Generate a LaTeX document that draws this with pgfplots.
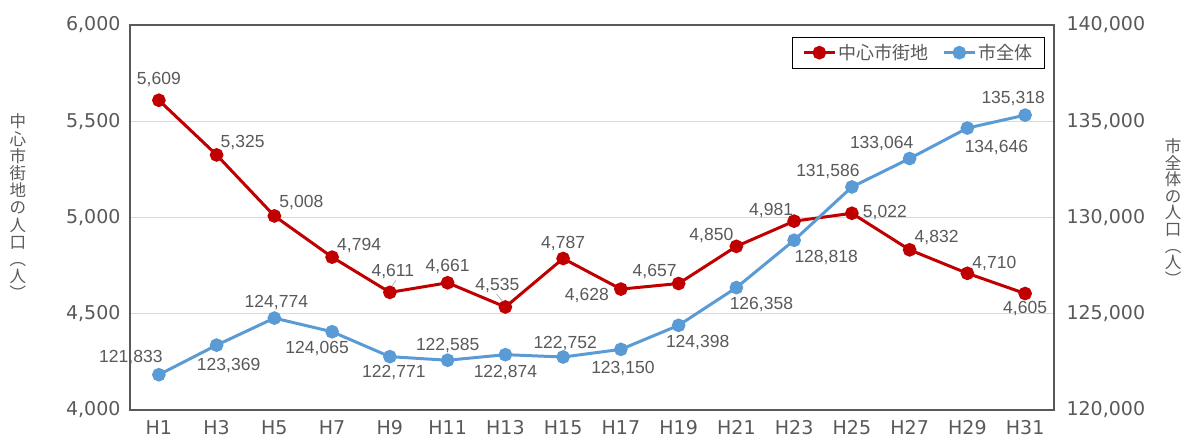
\documentclass[border=0pt]{standalone}
\usepackage{fontspec}
\setmainfont{Liberation Sans}
\newfontfamily\dejavu{DejaVu Sans}
\newfontfamily\jp{Noto Sans CJK JP}
\usepackage{pgfplots}
\pgfplotsset{compat=1.18}
\definecolor{cred}{HTML}{C00000}
\definecolor{cblue}{HTML}{5B9BD5}
\definecolor{ctext}{HTML}{595959}
\definecolor{cgrid}{HTML}{D9D9D9}
\definecolor{caxis}{HTML}{595959}
\pgfplotsset{
  base/.style={width=924pt,height=385pt,scale only axis,
    xmin=-0.5,xmax=15.5,at={(0,0)},anchor=south west,clip=false,
    /pgf/number format/fixed,
    /pgf/number format/assume math mode=true,
    /pgf/number format/1000 sep={,},
    scaled y ticks=false,
    tick style={draw=none},
    ticklabel style={font=\dejavu\fontsize{19}{21}\selectfont,text=ctext},
  },
}
\newcommand\lbl[5]{\node[font=\fontsize{17.5}{19}\selectfont,text=ctext,xshift=#3pt,yshift=#4pt] at (axis cs:#1,#2) {#5};}
\begin{document}
\begin{tikzpicture}
\begin{axis}[base,name=ax,
  ymin=4000,ymax=6000,ytick={4000,4500,5000,5500,6000},
  ytick pos=left,
  xtick={0,...,15},
  xticklabels={H1,H3,H5,H7,H9,H11,H13,H15,H17,H19,H21,H23,H25,H27,H29,H31},
  xticklabel style={yshift=-7pt},
  yticklabel style={xshift=-6pt},
  ymajorgrids, grid style={cgrid,line width=1pt},
  axis line style={caxis,line width=1.3pt},
]
\addplot[cred,line width=3pt,mark=*,mark size=5.3pt,mark options={solid}] coordinates {
(0,5609) (1,5325) (2,5008) (3,4794) (4,4611) (5,4661) (6,4535) (7,4787)
(8,4628) (9,4657) (10,4850) (11,4981) (12,5022) (13,4832) (14,4710) (15,4605)};
\lbl{0}{5609}{0}{21}{5,609}
\lbl{1}{5325}{26}{12}{5,325}
\lbl{2}{5008}{27}{13}{5,008}
\lbl{3}{4794}{27}{12}{4,794}
\lbl{4}{4611}{3}{21}{4,611}
\lbl{5}{4661}{0}{16}{4,661}
\lbl{6}{4535}{-8}{21}{4,535}
\lbl{7}{4787}{0}{15}{4,787}
\lbl{8}{4628}{-34}{-6}{4,628}
\lbl{9}{4657}{-24}{12}{4,657}
\lbl{10}{4850}{-25}{11}{4,850}
\lbl{11}{4981}{-23}{11}{4,981}
\lbl{12}{5022}{33}{1}{5,022}
\lbl{13}{4832}{27}{12}{4,832}
\lbl{14}{4710}{27}{10}{4,710}
\lbl{15}{4605}{0}{-15}{4,605}
\draw[gray!70,line width=0.6pt] ([xshift=2pt,yshift=6pt]axis cs:4,4611) -- ([xshift=6pt,yshift=12pt]axis cs:4,4611);
\draw[gray!70,line width=0.6pt] ([xshift=-3pt,yshift=6pt]axis cs:6,4535) -- ([xshift=-9pt,yshift=13pt]axis cs:6,4535);
\end{axis}
\begin{axis}[base,
  ymin=120000,ymax=140000,ytick={120000,125000,130000,135000,140000},
  axis y line*=right, axis x line=none,
  yticklabel style={xshift=9pt},
  axis line style={caxis,line width=1.3pt},
  legend columns=2,
  legend style={at={(0.990,0.969)},anchor=north east,draw=black,line width=0.8pt,
    font=\jp\fontsize{18}{20}\selectfont,text=ctext,
    inner xsep=10pt,inner ysep=5pt,
    /tikz/every even column/.append style={column sep=12pt}},
  legend image code/.code={\draw[mark repeat=2,mark phase=2,#1] plot coordinates {(0pt,0pt) (15.5pt,0pt) (31pt,0pt)};},
]
\addlegendimage{cred,line width=3pt,mark=*,mark size=5.3pt,mark options={solid}}
\addlegendentry{中心市街地}
\addplot[cblue,line width=3pt,mark=*,mark size=5.3pt,mark options={solid}] coordinates {
(0,121833) (1,123369) (2,124774) (3,124065) (4,122771) (5,122585) (6,122874) (7,122752)
(8,123150) (9,124398) (10,126358) (11,128818) (12,131586) (13,133064) (14,134646) (15,135318)};
\addlegendentry{市全体}
\lbl{0}{121833}{-28}{17}{121,833}
\lbl{1}{123369}{12}{-20}{123,369}
\lbl{2}{124774}{2}{16}{124,774}
\lbl{3}{124065}{-15}{-17}{124,065}
\lbl{4}{122771}{4}{-16}{122,771}
\lbl{5}{122585}{0}{15}{122,585}
\lbl{6}{122874}{0}{-18}{122,874}
\lbl{7}{122752}{2}{14}{122,752}
\lbl{8}{123150}{2}{-19}{123,150}
\lbl{9}{124398}{19}{-17}{124,398}
\lbl{10}{126358}{25}{-17}{126,358}
\lbl{11}{128818}{32}{-17}{128,818}
\lbl{12}{131586}{-24}{15}{131,586}
\lbl{13}{133064}{-28}{15}{133,064}
\lbl{14}{134646}{29}{-19}{134,646}
\lbl{15}{135318}{-12}{17}{135,318}
\end{axis}
\node[font=\jp\fontsize{16.5}{17.2}\selectfont,text=ctext,align=center] at (-112pt,203pt)
  {中\\心\\市\\街\\地\\の\\人\\口\\︵\\人\\︶};
\node[font=\jp\fontsize{16.5}{16.6}\selectfont,text=ctext,align=center] at (1043pt,198pt)
  {市\\全\\体\\の\\人\\口\\︵\\人\\︶};
\pgfresetboundingbox
\useasboundingbox (-130pt,-31pt) rectangle (1055pt,410pt);
\end{tikzpicture}
\end{document}
